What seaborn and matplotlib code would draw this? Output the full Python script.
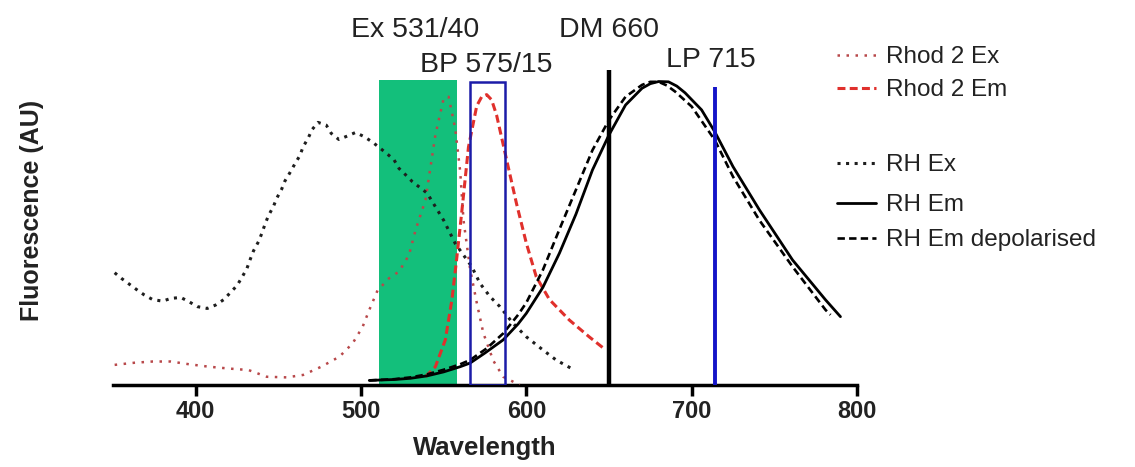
import numpy as np
import pandas as pd
import matplotlib
matplotlib.use("Agg")
import matplotlib.pyplot as plt
from matplotlib.lines import Line2D
from matplotlib.patches import Rectangle
import seaborn as sns

# ---------------- data ----------------
rhod2_ex_wl = [351, 363, 374, 385, 396, 408, 420, 432, 443, 455, 465, 476, 487, 495, 501,
               505, 510, 517, 523, 529, 533, 539, 545, 550, 553, 557, 560, 562, 566, 570,
               574, 580, 586, 596]
rhod2_ex_val = [6.6, 7.3, 7.7, 7.7, 6.8, 6.0, 5.4, 4.9, 2.7, 2.5, 3.3, 6.0, 9.3, 13.7, 19.1,
                24.6, 31, 35, 37.2, 42.6, 50.8, 60.7, 82, 94, 94.5, 84, 70, 54, 38, 27,
                17, 8, 2.7, 0]

rhod2_em_wl = [539, 545, 551, 555, 558, 561, 565, 570, 573, 576, 579, 582, 588, 594, 600,
               606, 614, 626, 638, 648]
rhod2_em_val = [2.7, 6, 14.8, 28, 42, 57, 78, 91.5, 94.5, 95.2, 93.5, 88.5, 74, 59.6, 46.5,
                35.5, 28, 21.3, 15.8, 11.5]

rh_ex_wl = [351, 355, 360, 365, 369, 374, 380, 385, 391, 396, 401, 407, 412, 417, 421,
            425, 428, 431, 433, 435, 438, 440, 442, 444, 447, 449, 452, 454, 457, 460,
            463, 465, 468, 470.5, 474, 479, 482, 486.6, 491.6, 496.7, 502, 507, 511, 516,
            520, 523, 527, 531, 540, 550, 557, 567, 572, 578, 584, 592, 600, 610, 618, 627]
rh_ex_val = [36.8, 35, 33, 31, 29.5, 28, 27.5, 28.4, 28.7, 27.3, 25.7, 25.1, 26.2, 28, 30.3,
             32.6, 35.3, 38.2, 41.2, 44, 47, 49.7, 52.8, 55.5, 58.5, 61.2, 64.2, 66.9, 69.6, 72.5,
             75.2, 78.1, 80.9, 83.8, 86.1, 85.2, 82.5, 80.5, 81.6, 82.8, 81.4, 79.6, 77.9, 75.7,
             73.8, 71, 68.9, 66.7, 62.9, 54, 46.4, 38.8, 33.3, 29, 25.7, 20.2, 15.8, 11.5, 8.2, 5.5]

rh_em_wl = [505, 520, 530, 540, 550, 560, 566, 575, 586, 595, 600, 610, 620, 630, 640,
            650, 660, 670, 675, 680, 686, 691, 696, 706, 714, 725, 741, 761, 781, 790]
rh_em_val = [1.5, 1.8, 2.2, 3.0, 4.3, 6.0, 7.2, 10.5, 14.8, 20, 23.5, 32, 43.2, 56, 70.5,
             82, 91.8, 97.3, 98.8, 99.5, 99.4, 98, 95.8, 90.2, 83, 71.6, 57.4, 41, 27.9, 22.4]

rh_em_dep_wl = [505, 520, 530, 540, 550, 560, 566, 576, 586, 595, 600, 610, 620, 630, 640,
                650, 660, 670, 675, 680, 685, 690, 700, 714, 725, 741, 761, 781, 784]
rh_em_dep_val = [1.5, 1.9, 2.5, 3.5, 5.0, 6.8, 8.2, 12, 16.9, 23, 27, 37.7, 51, 64, 77,
                 86.9, 94.5, 98.4, 99.4, 99.4, 98.2, 96.2, 91.3, 80.3, 68.3, 54, 38.8, 24.6, 23]

ex_filter = [511, 558]      # Ex 531/40 band
bp_filter = [566, 587]      # BP 575/15 band
dm_line = 650               # DM 660
lp_line = 714               # LP 715

x_ticks = [400, 500, 600, 700, 800]

# ---------------- style ----------------
sns.set_style("white")
plt.rcParams['font.family'] = ['Liberation Sans', 'DejaVu Sans']

W, H = 1135, 467
fig = plt.figure(figsize=(W / 100, H / 100), dpi=100)
ax = fig.add_axes([113 / W, 1 - 385 / H, (857 - 113) / W, 385 / H])

ymax = 385 / 3.05
ax.set_xlim(350, 800)
ax.set_ylim(0, ymax)

# filter band and lines
ax.add_patch(Rectangle((ex_filter[0], 0), ex_filter[1] - ex_filter[0], 100,
                       facecolor='#13bf7b', edgecolor='none', zorder=1))
ax.add_patch(Rectangle((bp_filter[0], 0), bp_filter[1] - bp_filter[0], 99.3,
                       facecolor='none', edgecolor='#1c1ca8', linewidth=1.8, zorder=4))
ax.plot([dm_line, dm_line], [0, 103.3], color='black', linewidth=3.2, zorder=5, solid_capstyle='butt')
ax.plot([lp_line, lp_line], [0, 97.7], color='#1414c8', linewidth=2.8, zorder=5, solid_capstyle='butt')

styles = {
    'Rhod 2 Ex': dict(color='#b8484a', linestyle=(0, (1, 2.6)), linewidth=1.8),
    'Rhod 2 Em': dict(color='#e0302c', linestyle=(0, (2.6, 1.4)), linewidth=2.2),
    'RH Ex': dict(color='#1e1e1e', linestyle=(0, (1, 1.8)), linewidth=2.2),
    'RH Em': dict(color='black', linestyle='-', linewidth=2.0),
    'RH Em depolarised': dict(color='black', linestyle=(0, (2.8, 1.6)), linewidth=1.9),
}
series = {
    'Rhod 2 Ex': (rhod2_ex_wl, rhod2_ex_val),
    'Rhod 2 Em': (rhod2_em_wl, rhod2_em_val),
    'RH Ex': (rh_ex_wl, rh_ex_val),
    'RH Em': (rh_em_wl, rh_em_val),
    'RH Em depolarised': (rh_em_dep_wl, rh_em_dep_val),
}
for name, (xs, ys) in series.items():
    df = pd.DataFrame({'wl': xs, 'v': ys})
    sns.lineplot(data=df, x='wl', y='v', ax=ax, zorder=3, **styles[name])

# annotations (baseline positions)
fs_ann = 20.5
tc = '#222222'
ax.text(532.6, 114.1, 'Ex 531/40', ha='center', va='baseline', fontsize=fs_ann, color=tc)
ax.text(576, 102.6, 'BP 575/15', ha='center', va='baseline', fontsize=fs_ann, color=tc)
ax.text(649.8, 114.1, 'DM 660', ha='center', va='baseline', fontsize=fs_ann, color=tc)
ax.text(711.5, 104.3, 'LP 715', ha='center', va='baseline', fontsize=fs_ann, color=tc)

# axes styling
for s in ['top', 'right', 'left']:
    ax.spines[s].set_visible(False)
ax.spines['bottom'].set_linewidth(2.5)
ax.spines['bottom'].set_color('black')
ax.set_xticks(x_ticks)
ax.set_xticklabels([str(t) for t in x_ticks], fontsize=17, fontweight='bold', color=tc)
ax.tick_params(axis='x', direction='out', length=8, width=2.5, color='black', pad=3, bottom=True)
ax.set_yticks([])
ax.set_xlabel('Wavelength', fontsize=18.5, fontweight='bold', color=tc, labelpad=9)
ax.set_ylabel('')
fig.text(32 / W, 1 - 210 / H, 'Fluorescence (AU)', rotation=90, ha='center', va='center',
         fontsize=18, fontweight='bold', color=tc)

# legend rows placed individually
rows = [('Rhod 2 Ex', 57), ('Rhod 2 Em', 90), ('RH Ex', 165), ('RH Em', 205), ('RH Em depolarised', 240)]
for name, ypix in rows:
    h = Line2D([], [], **styles[name])
    leg = fig.legend([h], [name], loc='center left', bbox_to_anchor=(837 / W, 1 - ypix / H),
                     frameon=False, fontsize=17.5, handlelength=1.6, handletextpad=0.4,
                     borderpad=0, borderaxespad=0)
    for t in leg.get_texts():
        t.set_color(tc)

fig.savefig('out.png', dpi=100)
